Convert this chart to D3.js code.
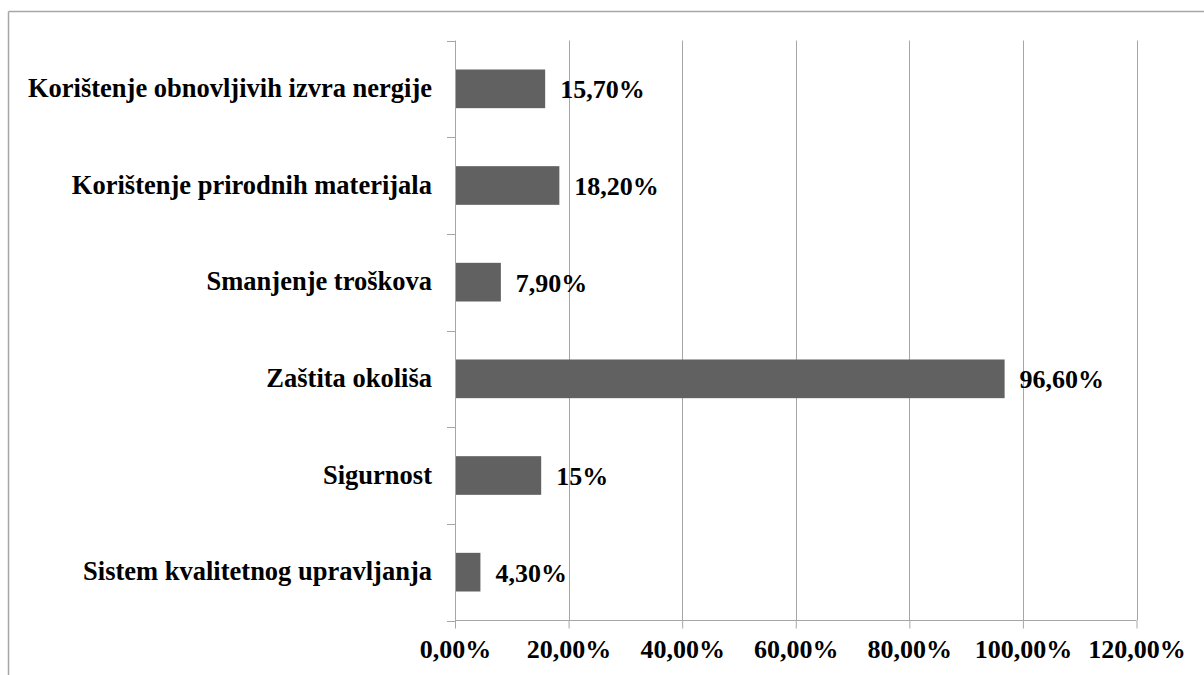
<!DOCTYPE html>
<html>
<head>
<meta charset="utf-8">
<script src="https://cdn.jsdelivr.net/npm/d3@7"></script>
<style>
html,body{margin:0;padding:0;background:#fff;}
svg{display:block;}
text{font-family:"Liberation Serif","Times New Roman",serif;font-weight:bold;fill:#000;}
</style>
</head>
<body>
<svg id="chart" width="1204" height="675"></svg>
<script>
const categories = [
  "Korištenje obnovljivih izvra nergije",
  "Korištenje prirodnih materijala",
  "Smanjenje troškova",
  "Zaštita okoliša",
  "Sigurnost",
  "Sistem kvalitetnog upravljanja"
];
const values = [15.7, 18.2, 7.9, 96.6, 15, 4.3];
const valueLabels = ["15,70%", "18,20%", "7,90%", "96,60%", "15%", "4,30%"];
const xTicks = [0, 20, 40, 60, 80, 100, 120];
const xTickLabels = ["0,00%", "20,00%", "40,00%", "60,00%", "80,00%", "100,00%", "120,00%"];

const svg = d3.select("#chart");
const mLeft = 455, mRight = 1136.5, mTop = 40.5, mBottom = 620.5;
const gridColor = "#a6a6a6";

// outer border (top and left only visible)
svg.append("line").attr("x1", 8.5).attr("x2", 1204).attr("y1", 11.5).attr("y2", 11.5)
  .attr("stroke", gridColor).attr("stroke-width", 1.5);
svg.append("line").attr("x1", 8.5).attr("x2", 8.5).attr("y1", 11.5).attr("y2", 675)
  .attr("stroke", gridColor).attr("stroke-width", 1.5);

const x = d3.scaleLinear().domain([0, 120]).range([mLeft, mRight]);
const y = d3.scaleBand().domain(categories).range([mTop, mBottom]).paddingInner(0.6).paddingOuter(0.3);
const yb = d3.scaleBand().domain(categories).range([mTop, mBottom]);

// gridlines
svg.append("g").selectAll("line").data(xTicks.filter(d => d > 0)).join("line")
  .attr("x1", d => Math.round(x(d)) + 0.5).attr("x2", d => Math.round(x(d)) + 0.5)
  .attr("y1", mTop).attr("y2", mBottom)
  .attr("stroke", gridColor).attr("stroke-width", 1);

// bars
svg.append("g").selectAll("rect").data(categories).join("rect")
  .attr("x", x(0) + 1)
  .attr("y", d => y(d))
  .attr("width", (d, i) => x(values[i]) - x(0))
  .attr("height", y.bandwidth())
  .attr("fill", "#616161");

// x axis
const xAxis = d3.axisBottom(x).tickValues(xTicks).tickSize(8).tickFormat((d, i) => xTickLabels[i]);
const gx = svg.append("g").attr("transform", `translate(0,${mBottom})`).call(xAxis);
gx.select(".domain").attr("stroke", gridColor).attr("d", `M${mLeft},0H${mRight}`);
gx.selectAll(".tick line").attr("stroke", gridColor);
gx.selectAll(".tick text").attr("y", 37).attr("dy", 0)
  .style("font-size", "26px").style("font-family", '"Liberation Serif", serif').style("font-weight", "bold").attr("fill", "#000");

// y axis
const gy = svg.append("g").attr("transform", `translate(${mLeft},0)`);
gy.append("line").attr("x1", 0.5).attr("x2", 0.5).attr("y1", mTop).attr("y2", mBottom).attr("stroke", gridColor);
const boundaries = categories.map(c => yb(c)).concat([mBottom]);
gy.selectAll("line.tk").data(boundaries).join("line").attr("class", "tk")
  .attr("x1", -8).attr("x2", 0).attr("y1", d => Math.round(d) + 0.5).attr("y2", d => Math.round(d) + 0.5)
  .attr("stroke", gridColor);

// category labels
svg.append("g").selectAll("text").data(categories).join("text")
  .attr("x", 432)
  .attr("y", d => yb(d) + yb.bandwidth() / 2 + 8)
  .attr("text-anchor", "end")
  .style("font-size", "26.5px")
  .text(d => d);

// value labels
svg.append("g").selectAll("text").data(categories).join("text")
  .attr("x", (d, i) => x(values[i]) + 16)
  .attr("y", d => yb(d) + yb.bandwidth() / 2 + 9.5)
  .style("font-size", "26px")
  .text((d, i) => valueLabels[i]);
</script>
</body>
</html>
